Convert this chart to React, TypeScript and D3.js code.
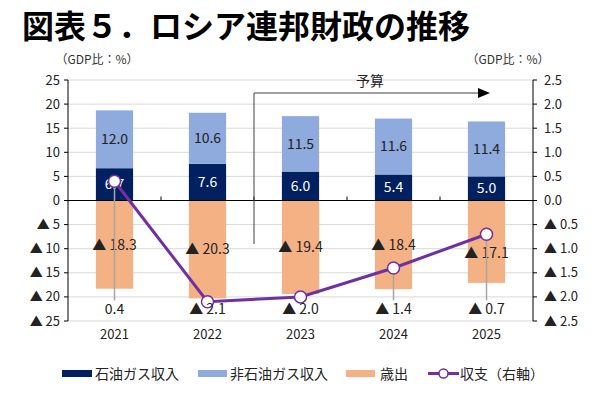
import React from 'react';
import * as d3 from 'd3';

const years = ['2021', '2022', '2023', '2024', '2025'];
const oilGas = [6.7, 7.6, 6.0, 5.4, 5.0];
const nonOilGas = [12.0, 10.6, 11.5, 11.6, 11.4];
const spending = [-18.3, -20.3, -19.4, -18.4, -17.1];
const balance = [0.4, -2.1, -2.0, -1.4, -0.7];
const leftTicks = [25, 20, 15, 10, 5, 0, -5, -10, -15, -20, -25];
const rightTicks = [2.5, 2.0, 1.5, 1.0, 0.5, 0, -0.5, -1.0, -1.5, -2.0, -2.5];

const FONT = '"Noto Sans CJK JP", "Noto Sans", sans-serif';
const C_OIL = '#002060';
const C_NONOIL = '#8FAADC';
const C_SPEND = '#F4B183';
const C_BAL = '#7030A0';

const fmt = (v: number) => (v < 0 ? '▲ ' : '') + Math.abs(v).toFixed(1);
const fmtTick = (v: number) => (v < 0 ? '▲ ' : '') + Math.abs(v);

const App = () => {
  const W = 600;
  const H = 399;
  const left = 68;
  const right = 533;

  const x = d3.scaleBand().domain(years).range([left, right]).paddingInner(0.6).paddingOuter(0.3);
  const cx = (d: string) => (x(d) as number) + x.bandwidth() / 2;
  const step = x.step();
  const y = d3.scaleLinear().domain([-25, 25]).range([321, 80]);
  const yR = d3.scaleLinear().domain([-2.5, 2.5]).range([321, 80]);

  const line = d3.line<number>()
    .x((_, i) => cx(years[i]))
    .y((d) => yR(d));

  const balLabelY = y(-22.6);
  const budgetX = (cx(years[1]) + cx(years[2])) / 2;

  return (
    <svg width={W} height={H} style={{ position: 'absolute', left: 0, top: 0, background: '#fff' }} fontFamily={FONT}>
      {/* title */}
      <text x={22} y={38} fontSize={32} fontWeight={700} fill="#000">図表５．ロシア連邦財政の推移</text>

      <text x={97} y={64} fontSize={12} textAnchor="middle" fill="#333">（GDP比：%）</text>
      <text x={508} y={64} fontSize={12} textAnchor="middle" fill="#333">（GDP比：%）</text>

      {/* grid */}
      {leftTicks.map((t) => (
        <line key={'g' + t} x1={left} x2={right} y1={y(t)} y2={y(t)} stroke="#D9D9D9" strokeWidth={1} />
      ))}

      {/* bars */}
      {years.map((yr, i) => (
        <g key={'b' + yr}>
          <rect x={x(yr)} width={x.bandwidth()} y={y(0)} height={y(spending[i]) - y(0)} fill={C_SPEND} />
          <rect x={x(yr)} width={x.bandwidth()} y={y(oilGas[i])} height={y(0) - y(oilGas[i])} fill={C_OIL} />
          <rect x={x(yr)} width={x.bandwidth()} y={y(oilGas[i] + nonOilGas[i])}
            height={y(oilGas[i]) - y(oilGas[i] + nonOilGas[i])} fill={C_NONOIL} />
        </g>
      ))}

      {/* axes */}
      <line x1={left} x2={left} y1={y(25)} y2={y(-25)} stroke="#000" />
      <line x1={right} x2={right} y1={y(25)} y2={y(-25)} stroke="#000" />
      <line x1={left} x2={right} y1={y(0)} y2={y(0)} stroke="#000" />
      {leftTicks.map((t) => (
        <g key={'lt' + t}>
          <line x1={left - 4} x2={left} y1={y(t)} y2={y(t)} stroke="#000" />
          <text x={60} y={y(t)} dy="0.35em" fontSize={13} textAnchor="end" fill="#222">{fmtTick(t)}</text>
        </g>
      ))}
      {rightTicks.map((t) => (
        <g key={'rt' + t}>
          <line x1={right} x2={right + 4} y1={yR(t)} y2={yR(t)} stroke="#000" />
          <text x={544} y={yR(t)} dy="0.35em" fontSize={13} fill="#222">
            {(t < 0 ? '▲ ' : '') + Math.abs(t).toFixed(1)}
          </text>
        </g>
      ))}
      {years.slice(1).map((yr) => (
        <line key={'xt' + yr} x1={(x(yr) as number) - (step - x.bandwidth()) / 2} x2={(x(yr) as number) - (step - x.bandwidth()) / 2}
          y1={y(0)} y2={y(0) - 4} stroke="#000" />
      ))}
      {years.map((yr) => (
        <text key={'xl' + yr} x={cx(yr)} y={339} fontSize={13} textAnchor="middle" fill="#222">{yr}</text>
      ))}

      {/* budget bracket */}
      <line x1={budgetX} x2={budgetX} y1={93} y2={244} stroke="#404040" />
      <line x1={budgetX} x2={478} y1={93} y2={93} stroke="#404040" />
      <path d="M478,88 L490,93 L478,98 Z" fill="#000" />
      <text x={370} y={86} fontSize={14} textAnchor="middle" fill="#222">予算</text>

      {/* bar labels */}
      {years.map((yr, i) => {
        const spendY = y(spending[i] / 2);
        const markerY = yR(balance[i]);
        const sy = Math.abs(spendY - markerY) < 14 ? markerY + 19 : spendY;
        return (
          <g key={'lb' + yr} fontSize={14} textAnchor="middle">
            <text x={cx(yr)} y={y(oilGas[i] / 2)} dy="0.35em" fill="#fff">{oilGas[i].toFixed(1)}</text>
            <text x={cx(yr)} y={y(oilGas[i] + nonOilGas[i] / 2)} dy="0.35em" fill="#222">{nonOilGas[i].toFixed(1)}</text>
            <text x={cx(yr)} y={sy} dy="0.35em" fill="#222">{fmt(spending[i])}</text>
          </g>
        );
      })}

      {/* balance leader lines */}
      {years.map((yr, i) => {
        const my = yR(balance[i]);
        return balLabelY - my > 20 ? (
          <line key={'ll' + yr} x1={cx(yr)} x2={cx(yr)} y1={my} y2={balLabelY - 9} stroke="#A6A6A6" strokeWidth={1.5} />
        ) : null;
      })}

      {/* balance line */}
      <path d={line(balance) || ''} fill="none" stroke={C_BAL} strokeWidth={3} />
      {years.map((yr, i) => (
        <circle key={'m' + yr} cx={cx(yr)} cy={yR(balance[i])} r={6} fill="#fff" stroke={C_BAL} strokeWidth={1.5} />
      ))}
      {years.map((yr, i) => (
        <text key={'bl' + yr} x={cx(yr)} y={balLabelY} dy="0.35em" fontSize={14} textAnchor="middle" fill="#222">
          {fmt(balance[i])}
        </text>
      ))}

      {/* legend */}
      <g fontSize={14} fill="#222">
        <rect x={62} y={370} width={30} height={7} fill={C_OIL} />
        <text x={95} y={374} dy="0.35em">石油ガス収入</text>
        <rect x={198} y={370} width={29} height={7} fill={C_NONOIL} />
        <text x={230} y={374} dy="0.35em">非石油ガス収入</text>
        <rect x={346} y={370} width={29} height={7} fill={C_SPEND} />
        <text x={380} y={374} dy="0.35em">歳出</text>
        <line x1={428} x2={459} y1={373.5} y2={373.5} stroke={C_BAL} strokeWidth={3} />
        <circle cx={443.5} cy={373.5} r={4.5} fill="#fff" stroke={C_BAL} strokeWidth={1.5} />
        <text x={460} y={374} dy="0.35em">収支（右軸）</text>
      </g>
    </svg>
  );
};

export default App;
